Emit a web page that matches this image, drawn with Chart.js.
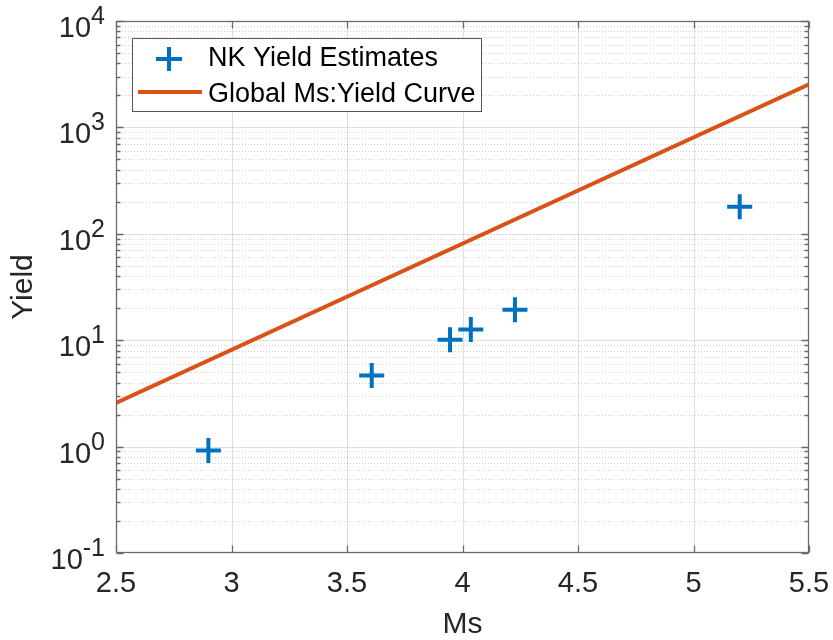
<!DOCTYPE html>
<html><head><meta charset="utf-8">
<script src="https://cdn.jsdelivr.net/npm/chart.js@4"></script>
<style>html,body{margin:0;padding:0;background:#fff;} #wrap{width:833px;height:640px;}</style>
</head><body><div id="wrap"><canvas id="c" width="833" height="640"></canvas></div>
<script>
// ---- data ----
const nkMs = [2.90, 3.607, 3.946, 4.036, 4.227, 5.20];
const nkYield = [0.92, 4.67, 10.1, 12.6, 19.3, 180];
const curveMs = [2.5, 5.5];
const curveYield = [2.57, 2540];
const xTicks = [2.5, 3, 3.5, 4, 4.5, 5, 5.5];
const xTickLabels = ['2.5', '3', '3.5', '4', '4.5', '5', '5.5'];
const yDecades = [-1, 0, 1, 2, 3, 4];
const seriesLabels = ['NK Yield Estimates', 'Global Ms:Yield Curve'];
const xTitle = 'Ms';
const yTitle = 'Yield';

const FONT = '"Liberation Sans", Arial, Helvetica, sans-serif';
const BLUE = '#0072BD', ORANGE = '#D95319', TXT = '#262626';

const matlabPlugin = {
  id: 'matlab',
  beforeDatasetsDraw(chart) {
    const {ctx, chartArea: a, scales: {x, y}} = chart;
    ctx.save();
    ctx.beginPath(); ctx.rect(a.left, a.top, a.right - a.left, a.bottom - a.top); ctx.clip();
    ctx.lineWidth = 1;
    ctx.strokeStyle = 'rgba(38,38,38,0.22)';
    ctx.setLineDash([1, 2]);
    yDecades.forEach(d => {
      for (let m = 2; m <= 9; m++) {
        const v = m * Math.pow(10, d);
        if (v >= y.max) continue;
        const p = Math.round(y.getPixelForValue(v)) + 0.5;
        ctx.beginPath(); ctx.moveTo(a.left, p); ctx.lineTo(a.right, p); ctx.stroke();
      }
    });
    ctx.setLineDash([]);
    ctx.strokeStyle = 'rgba(38,38,38,0.15)';
    yDecades.forEach(d => {
      const p = Math.round(y.getPixelForValue(Math.pow(10, d))) + 0.5;
      ctx.beginPath(); ctx.moveTo(a.left, p); ctx.lineTo(a.right, p); ctx.stroke();
    });
    xTicks.forEach(v => {
      const p = Math.round(x.getPixelForValue(v)) + 0.5;
      ctx.beginPath(); ctx.moveTo(p, a.top); ctx.lineTo(p, a.bottom); ctx.stroke();
    });
    ctx.restore();
  },
  afterDatasetsDraw(chart) {
    const {ctx, chartArea: a, scales: {x, y}} = chart;
    ctx.save();
    const L = Math.round(a.left) + 0.5, R = Math.round(a.right) - 0.5;
    const T = Math.round(a.top) + 0.5, B = Math.round(a.bottom) - 0.5;
    ctx.strokeStyle = '#6a6a6a';
    ctx.lineWidth = 1.3;
    ctx.strokeRect(L, T, R - L, B - T);
    xTicks.forEach(v => {
      const p = Math.round(x.getPixelForValue(v)) + 0.5;
      ctx.beginPath();
      ctx.moveTo(p, B); ctx.lineTo(p, B - 7);
      ctx.moveTo(p, T); ctx.lineTo(p, T + 7);
      ctx.stroke();
    });
    yDecades.forEach(d => {
      const p = Math.round(y.getPixelForValue(Math.pow(10, d))) + 0.5;
      ctx.beginPath();
      ctx.moveTo(L, p); ctx.lineTo(L + 7, p);
      ctx.moveTo(R, p); ctx.lineTo(R - 7, p);
      ctx.stroke();
      for (let m = 2; m <= 9; m++) {
        const v = m * Math.pow(10, d);
        if (v >= y.max) continue;
        const q = Math.round(y.getPixelForValue(v)) + 0.5;
        ctx.beginPath();
        ctx.moveTo(L, q); ctx.lineTo(L + 4, q);
        ctx.moveTo(R, q); ctx.lineTo(R - 4, q);
        ctx.stroke();
      }
    });
    // y tick labels 10^n
    ctx.fillStyle = TXT;
    ctx.textBaseline = 'alphabetic';
    yDecades.forEach(d => {
      const p = y.getPixelForValue(Math.pow(10, d));
      const exp = String(d);
      ctx.font = '25px ' + FONT;
      const w = ctx.measureText(exp).width;
      const right = 105;
      ctx.textAlign = 'left';
      ctx.fillText(exp, right - w, p + 3);
      ctx.font = '29px ' + FONT;
      ctx.textAlign = 'right';
      ctx.fillText('10', right - w, p + 16);
    });
    // legend
    const lx = 132.5, ly = 38.5, lw = 349, lh = 73;
    ctx.fillStyle = '#fff';
    ctx.fillRect(lx, ly, lw, lh);
    ctx.strokeStyle = '#555';
    ctx.lineWidth = 1;
    ctx.strokeRect(lx, ly, lw, lh);
    ctx.strokeStyle = BLUE; ctx.lineWidth = 4;
    ctx.beginPath();
    ctx.moveTo(169 - 13, 59); ctx.lineTo(169 + 13, 59);
    ctx.moveTo(169, 59 - 12); ctx.lineTo(169, 59 + 12);
    ctx.stroke();
    ctx.strokeStyle = ORANGE; ctx.lineWidth = 4;
    ctx.beginPath(); ctx.moveTo(138, 92); ctx.lineTo(202, 92); ctx.stroke();
    ctx.fillStyle = '#000';
    ctx.font = '27px ' + FONT;
    ctx.textAlign = 'left';
    ctx.textBaseline = 'middle';
    const ds = chart.data.datasets;
    ctx.fillText(ds[0].label, 208, 59);
    ctx.fillText(ds[1].label, 208, 95);
    ctx.restore();
  }
};

new Chart(document.getElementById('c'), {
  type: 'scatter',
  data: {
    datasets: [
      {
        label: seriesLabels[0],
        data: nkMs.map((m, i) => ({x: m, y: nkYield[i]})),
        pointStyle: 'cross',
        pointRadius: 12.5,
        pointHoverRadius: 12.5,
        borderWidth: 4,
        pointBorderWidth: 4,
        borderColor: BLUE,
        backgroundColor: BLUE,
        showLine: false
      },
      {
        label: seriesLabels[1],
        data: curveMs.map((m, i) => ({x: m, y: curveYield[i]})),
        showLine: true,
        borderColor: ORANGE,
        backgroundColor: ORANGE,
        borderWidth: 4,
        pointRadius: 0,
        pointHoverRadius: 0,
        fill: false
      }
    ]
  },
  options: {
    responsive: false,
    animation: false,
    events: [],
    layout: {padding: {left: 0, right: 24, top: 21, bottom: 0}},
    plugins: {legend: {display: false}, tooltip: {enabled: false}},
    scales: {
      x: {
        type: 'linear', min: 2.5, max: 5.5,
        grid: {display: false, drawTicks: false},
        border: {display: false},
        afterBuildTicks: s => { s.ticks = xTicks.map(v => ({value: v})); },
        afterFit: s => { s.height = 87; s.paddingLeft = 0; s.paddingRight = 0; },
        ticks: {
          autoSkip: false, maxRotation: 0, minRotation: 0,
          padding: 16,
          color: TXT,
          font: {family: FONT, size: 29, lineHeight: 1},
          callback: (v) => { const i = xTicks.indexOf(v); return i >= 0 ? xTickLabels[i] : ''; }
        },
        title: {display: true, text: xTitle, color: TXT, font: {family: FONT, size: 30, lineHeight: 1}, padding: {top: 0, bottom: 0}}
      },
      y: {
        type: 'logarithmic', min: 0.1, max: 10000,
        grid: {display: false, drawTicks: false},
        border: {display: false},
        afterFit: s => { s.width = 116; s.paddingTop = 0; s.paddingBottom = 0; },
        ticks: {display: false},
        title: {display: true, text: yTitle, color: TXT, font: {family: FONT, size: 30, lineHeight: 1}, padding: {top: 9, bottom: 0}}
      }
    }
  },
  plugins: [matlabPlugin]
});
</script>
</body></html>
